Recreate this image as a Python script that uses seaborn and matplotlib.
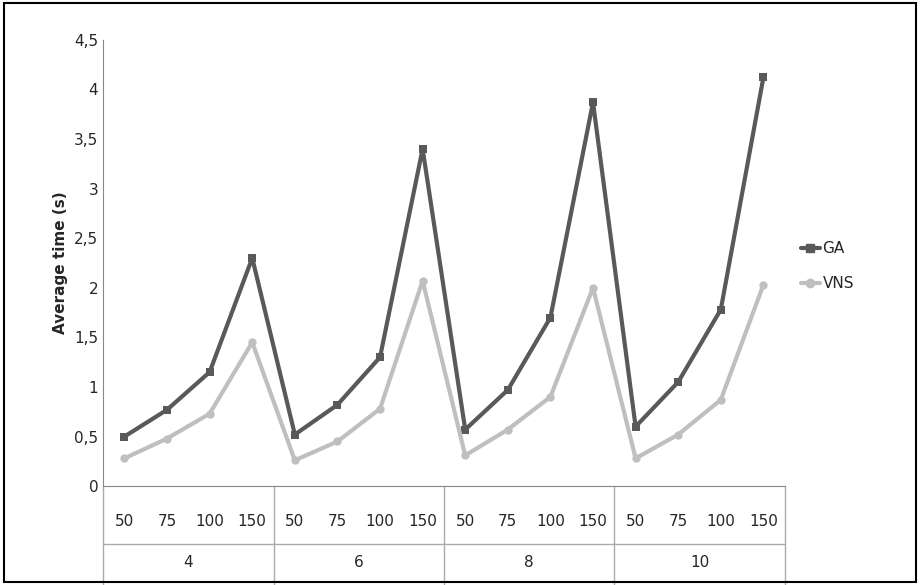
import matplotlib
matplotlib.use("Agg")
import matplotlib.pyplot as plt
import seaborn as sns
import pandas as pd
from matplotlib.lines import Line2D
from matplotlib.patches import Rectangle

groups = ["4", "6", "8", "10"]
sizes = ["50", "75", "100", "150"]
ga = [0.5, 0.77, 1.15, 2.3, 0.52, 0.82, 1.3, 3.4, 0.57, 0.97, 1.7, 3.87, 0.6, 1.05, 1.78, 4.12]
vns = [0.28, 0.48, 0.73, 1.45, 0.26, 0.45, 0.78, 2.07, 0.31, 0.57, 0.9, 2.0, 0.28, 0.52, 0.87, 2.03]
yticks = [0, 0.5, 1, 1.5, 2, 2.5, 3, 3.5, 4, 4.5]

sns.set_style("white")
plt.rcParams['font.family'] = ['DejaVu Sans']
fig = plt.figure(figsize=(9.21, 5.85), dpi=100)
ax = fig.add_axes([0.112, 0.169, 0.74, 0.763])
n = len(ga)
df = pd.DataFrame({"x": list(range(n)) * 2, "y": ga + vns,
                   "s": ["GA"] * n + ["VNS"] * n})
sns.lineplot(data=df, x="x", y="y", hue="s", style="s",
             palette={"GA": "#595959", "VNS": "#bfbfbf"},
             markers={"GA": "s", "VNS": "o"}, dashes=False,
             linewidth=3, markersize=6, markeredgewidth=0, ax=ax, legend=False)
ax.set_xlim(-0.5, n - 0.5)
ax.set_ylim(0, 4.5)
ax.set_yticks(yticks)
ax.set_yticklabels([f"{v:g}".replace(".", ",") for v in yticks], fontsize=11)
ax.set_xticks([])
ax.set_xlabel("")
ax.set_ylabel("Average time (s)", fontsize=11, fontweight="bold")
for s in ["top", "right"]:
    ax.spines[s].set_visible(False)
for s in ["left", "bottom"]:
    ax.spines[s].set_color("#888888")
ax.tick_params(axis="y", length=0)

tr = ax.get_xaxis_transform()
for i in range(n):
    ax.text(i, -0.08, sizes[i % 4], transform=tr, ha="center", va="center", fontsize=11)
for g, name in enumerate(groups):
    ax.text(g * 4 + 1.5, -0.17, name, transform=tr, ha="center", va="center", fontsize=11)
for b in [-0.5, 3.5, 7.5, 11.5, 15.5]:
    ax.add_line(Line2D([b, b], [0, -0.25], transform=tr, color="#aaaaaa", lw=1, clip_on=False))
ax.add_line(Line2D([-0.5, 15.5], [-0.13, -0.13], transform=tr, color="#aaaaaa", lw=1, clip_on=False))

handles = [Line2D([], [], color="#595959", lw=3, marker="s", markersize=6),
           Line2D([], [], color="#bfbfbf", lw=3, marker="o", markersize=6)]
fig.legend(handles, ["GA", "VNS"], loc="center left", bbox_to_anchor=(0.855, 0.545),
           frameon=False, fontsize=11, handlelength=1.2, handletextpad=0.2, labelspacing=1.3)
fig.add_artist(Rectangle((0.004, 0.005), 0.991, 0.99, transform=fig.transFigure,
                         fill=False, edgecolor="black", lw=1.5))
fig.savefig("out.png", dpi=100)
